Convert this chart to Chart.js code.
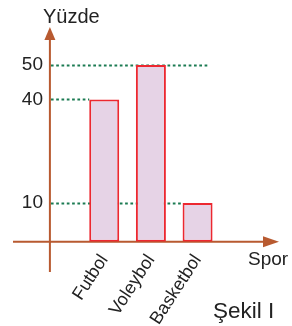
<!DOCTYPE html>
<html>
<head>
<meta charset="utf-8">
<script src="https://cdn.jsdelivr.net/npm/chart.js@4"></script>
<style>
  html, body { margin: 0; padding: 0; background: #fff; }
  canvas { display: block; }
</style>
</head>
<body>
<canvas id="sporChart" width="292" height="326"></canvas>
<script>
// Veriler
const kategoriler = ['Futbol', 'Voleybol', 'Basketbol'];
const yuzdeler = [40, 50, 10];
const yTikleri = [10, 40, 50];
const Y_MIN = -1.2;   // eksen cizgisinin oldugu deger
const Y_MAX = 61;

const EKSEN_RENK = '#b85a30';
const NOKTA_RENK = '#1b7b52';
const YAZI_RENK = '#222222';
const FONT = '"Liberation Sans", Arial, sans-serif';

// Noktali cizgilerin bittigi yer: [bar index, 'sol' | 'ote']
const kilavuzSonu = { 10: [2, 'sol'], 40: [0, 'sol'], 50: [2, 'ote'] };

function ok(ctx, x1, y1, x2, y2, x3, y3) {
    ctx.beginPath();
    ctx.moveTo(x1, y1);
    ctx.lineTo(x2, y2);
    ctx.lineTo(x3, y3);
    ctx.closePath();
    ctx.fill();
}

const eksenPlugin = {
    id: 'eksenler',
    beforeDatasetsDraw(chart) {
        const { ctx, scales: { x, y } } = chart;
        const bars = chart.getDatasetMeta(0).data;
        const ax = x.left - 31;
        const ay = y.getPixelForValue(Y_MIN);

        // Noktali kilavuz cizgileri
        ctx.save();
        ctx.strokeStyle = NOKTA_RENK;
        ctx.lineWidth = 2;
        ctx.setLineDash([2.7, 2.6]);
        yTikleri.forEach(v => {
            const py = Math.round(y.getPixelForValue(v)) + 0.5;
            const [i, tip] = kilavuzSonu[v];
            const b = bars[i];
            const ex = tip === 'sol' ? b.x - b.width / 2 : b.x + 10;
            ctx.beginPath();
            ctx.moveTo(ax + 1, py);
            ctx.lineTo(ex, py);
            ctx.stroke();
        });
        ctx.restore();

        // Eksenler
        ctx.save();
        ctx.strokeStyle = EKSEN_RENK;
        ctx.fillStyle = EKSEN_RENK;
        ctx.lineWidth = 2;
        ctx.beginPath();
        ctx.moveTo(ax, 272);
        ctx.lineTo(ax, 38);
        ctx.moveTo(13, ay);
        ctx.lineTo(266, ay);
        ctx.stroke();
        ok(ctx, ax, y.top, ax - 5.5, y.top + 13, ax + 5.5, y.top + 13);
        ok(ctx, 279, ay, 263, ay - 5.5, 263, ay + 5.5);
        ctx.restore();
    },
    afterDraw(chart) {
        const { ctx } = chart;
        ctx.save();
        ctx.fillStyle = YAZI_RENK;
        ctx.textBaseline = 'alphabetic';
        ctx.textAlign = 'left';
        ctx.font = '20px ' + FONT;
        ctx.fillText('Yüzde', 43, 23);
        ctx.font = '19px ' + FONT;
        ctx.fillText('Spor', 248, 265);
        ctx.font = '22.5px ' + FONT;
        ctx.fillText('Şekil I', 213, 318);
        ctx.restore();
    }
};

new Chart(document.getElementById('sporChart'), {
    type: 'bar',
    data: {
        labels: kategoriler,
        datasets: [{
            data: yuzdeler,
            base: Y_MIN,
            backgroundColor: '#e6d3e6',
            borderColor: '#ec2830',
            borderWidth: 2,
            borderSkipped: false,
            categoryPercentage: 1,
            barPercentage: 0.643
        }]
    },
    options: {
        responsive: false,
        animation: false,
        layout: { padding: { top: 27, right: 71.1, left: 0, bottom: 0 } },
        plugins: {
            legend: { display: false },
            tooltip: { enabled: false }
        },
        scales: {
            x: {
                grid: { display: false, drawTicks: false },
                border: { display: false },
                ticks: {
                    autoSkip: false,
                    minRotation: 57,
                    maxRotation: 57,
                    padding: 9,
                    color: YAZI_RENK,
                    font: { family: FONT, size: 18 }
                },
                afterFit(s) {
                    s.height = 84.3;
                    s.paddingLeft = 0;
                    s.paddingRight = 0;
                }
            },
            y: {
                min: Y_MIN,
                max: Y_MAX,
                grid: { display: false, drawTicks: false },
                border: { display: false },
                afterBuildTicks(s) {
                    s.ticks = yTikleri.map(v => ({ value: v }));
                },
                ticks: {
                    padding: 37.9,
                    color: YAZI_RENK,
                    font: { family: FONT, size: 19 }
                },
                afterFit(s) {
                    s.width = 80.9;
                    s.paddingTop = 0;
                    s.paddingBottom = 0;
                }
            }
        }
    },
    plugins: [eksenPlugin]
});
</script>
</body>
</html>
